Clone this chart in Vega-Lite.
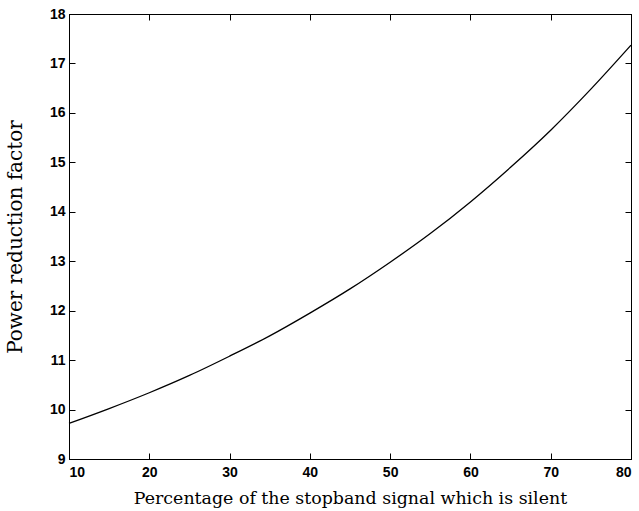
{
  "$schema": "https://vega.github.io/schema/vega-lite/v6.json",
  "autosize": "none",
  "width": 562,
  "height": 445,
  "padding": {"left": 69, "top": 14, "right": 8, "bottom": 52},
  "background": "white",
  "config": {"view": {"stroke": "black", "strokeWidth": 1}},
  "data": {"values": [
    {"p": 10, "f": 9.72},
    {"p": 15, "f": 10.02},
    {"p": 20, "f": 10.34},
    {"p": 25, "f": 10.69},
    {"p": 30, "f": 11.08},
    {"p": 35, "f": 11.49},
    {"p": 40, "f": 11.95},
    {"p": 45, "f": 12.44},
    {"p": 50, "f": 12.98},
    {"p": 55, "f": 13.56},
    {"p": 60, "f": 14.2},
    {"p": 65, "f": 14.9},
    {"p": 70, "f": 15.65},
    {"p": 75, "f": 16.48},
    {"p": 80, "f": 17.37}
  ]},
  "layer": [
    {
      "mark": {"type": "line", "color": "black", "strokeWidth": 1.3, "interpolate": "monotone"},
      "encoding": {
        "x": {"field": "p", "type": "quantitative", "scale": {"domain": [10, 80], "nice": false},
          "axis": {"values": [10,20,30,40,50,60,70,80], "title": "Percentage of the stopband signal which is silent",
            "titleFont": "DejaVu Serif", "titleFontSize": 17.4, "titleFontWeight": "normal", "titleColor": "black", "titlePadding": 10,
            "labelFont": "Liberation Sans", "labelFontSize": 14, "labelFontWeight": "bold", "labelColor": "black",
            "tickSize": -6, "tickWidth": 1, "labelPadding": 12, "domainColor": "black", "tickColor": "black", "grid": false}},
        "y": {"field": "f", "type": "quantitative", "scale": {"domain": [9, 18], "nice": false, "zero": false},
          "axis": {"values": [9,10,11,12,13,14,15,16,17,18], "title": "Power reduction factor",
            "titleFont": "DejaVu Serif", "titleFontSize": 20, "titleFontWeight": "normal", "titleColor": "black", "titlePadding": 24,
            "labelFont": "Liberation Sans", "labelFontSize": 14, "labelFontWeight": "bold", "labelColor": "black",
            "tickSize": -6, "tickWidth": 1, "labelPadding": 10, "domainColor": "black", "tickColor": "black", "grid": false}}
      }
    },
    {
      "mark": {"type": "line", "opacity": 0},
      "encoding": {
        "x": {"field": "p", "type": "quantitative", "scale": {"domain": [10, 80], "nice": false},
          "axis": {"orient": "top", "values": [10,20,30,40,50,60,70,80], "title": null, "labels": false, "tickSize": -6, "tickWidth": 1, "domainColor": "black", "tickColor": "black", "grid": false}},
        "y": {"field": "f", "type": "quantitative", "scale": {"domain": [9, 18], "nice": false, "zero": false},
          "axis": {"orient": "right", "values": [9,10,11,12,13,14,15,16,17,18], "title": null, "labels": false, "tickSize": -6, "tickWidth": 1, "domainColor": "black", "tickColor": "black", "grid": false}}
      }
    }
  ],
  "resolve": {"axis": {"x": "independent", "y": "independent"}}
}
